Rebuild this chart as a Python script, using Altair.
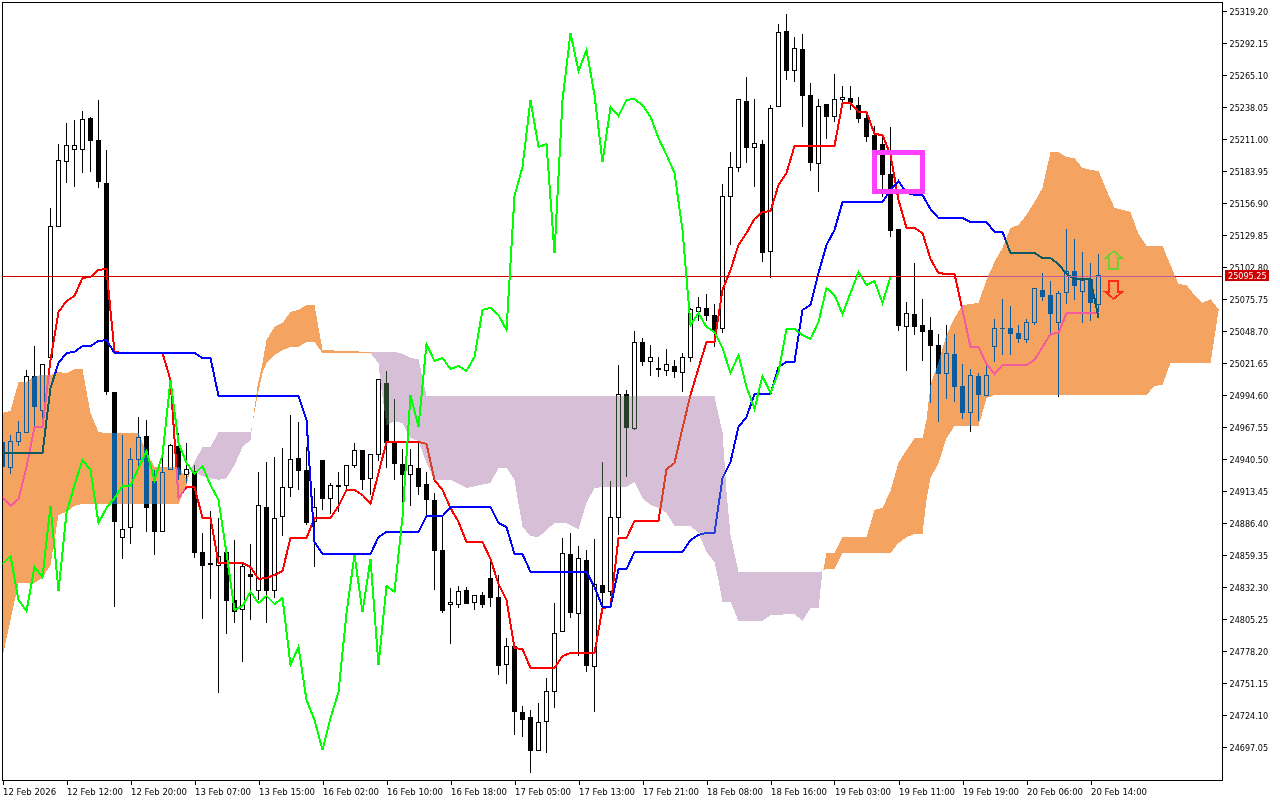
import altair as alt
import pandas as pd

AXIS_FONT = "DejaVu Sans Condensed"

opens = [24954.9,24933.7,24954.9,24962.5,25010.6,24981.1,25025.9,25137.4,25191.6,25202.5,25202.5,25228.8,25210.2,25173.8,24997.1,24874.5,24882.2,24940.5,24959.9,24921.9,24878.8,24932,24951.5,24927.8,24930.4,24861.9,24852.6,24850.9,24861.9,24821.3,24813.7,24843.3,24829,24899.9,24829,24891.5,24916.8,24941.3,24931.2,24887.3,24939.7,24906.7,24918.5,24917.7,24935.4,24948.1,24923.6,24943.9,25004.8,24954,24936.3,24927.8,24932.9,24919.4,24905.9,24863.6,24817.1,24817.9,24829.8,24818.8,24825.5,24839.9,24823.9,24767.2,24782.4,24726.7,24722.5,24693.7,24718.2,24743.6,24794.3,24860.2,24810.3,24855.1,24764.7,24834,24828.1,24890.7,24995.4,24966.7,25039.4,25022.5,25017.4,25015.7,25019.1,25014,25026.7,25065.6,25068.2,25062.2,25050.4,25162,25187.3,25243.1,25204.2,25206.8,25115.5,25238.1,25302.3,25268.5,25287.1,25248.2,25190.7,25240.6,25229.6,25244,25245.7,25239.7,25228.8,25214.4,25206.8,25181.4,25134.9,25052.1,25063,25053.8,25049.5,25036.9,25013.2,25029.3,25002.2,24980.2,25010.6,24993.8,25036,25051.2,25051.2,25047,25041.9,25056.3,25083.4,25079.1,25056.3,25081.6,25099.4,25082.5,25092.7,25071.5]
highs = [24956.6,24960.8,24972.7,25015.7,25036,25020,25152.7,25206.8,25224.6,25227.1,25234.7,25229.6,25244,25201.7,24997.1,24960.8,24949.8,24976,24973.5,24931.2,24941.3,24953.2,24962.5,24954,24935.4,24878,24896.6,24890.7,24863.6,24872,24853.4,24868.6,24929.5,24938,24942.2,24949.8,24977.7,24971.8,24950.6,24916,24939.7,24920.2,24929.5,24935.4,24954,24948.1,24943.9,25008.1,25014.9,24991.2,24949,24949,24954,24929.5,24911.8,24891.5,24831.5,24833.2,24832.3,24825.5,24828.1,24853.4,24842.5,24789.2,24782.4,24731.7,24728.4,24734.3,24755.4,24818.8,24873.7,24878,24866.9,24863.6,24872.9,24938,24921.9,25020,24998.8,25048.7,25042.8,25036.9,25026.7,25033.5,25024.2,25030.1,25068.2,25077.4,25080,25071.5,25172.9,25200,25244,25263.4,25244.8,25210.2,25239.7,25308.2,25316.7,25297.2,25299.8,25258.3,25244.8,25240.6,25265.9,25255.8,25255.8,25246.5,25232.1,25222,25211.8,25221.1,25134.9,25073.2,25106.2,25075.7,25060.5,25046.2,25053.8,25046.2,25020.8,25016.5,25013.2,25022.5,25058.8,25075.7,25069.8,25053.8,25058.8,25085,25097.7,25091,25082.5,25134.9,25126.5,25115.5,25106.2,25113.8]
lows = [24931.2,24927.8,24951.5,24962.5,24967.6,24973.5,25025.9,25137.4,25173.8,25170.4,25182.3,25183.1,25169.6,24994.6,24815.4,24856,24868.6,24932,24878.8,24859.4,24878.8,24932,24922.8,24920.2,24856.8,24805.2,24822.1,24742.7,24792.6,24801.9,24768.9,24804.4,24821.3,24801.9,24823,24875.4,24908.4,24914.3,24884.7,24849.2,24897.4,24894,24895.7,24914.3,24932.9,24914.3,24910.1,24938.8,24932.9,24922.8,24903.3,24900.8,24910.1,24892.3,24829.8,24810.3,24784.1,24814.6,24817.9,24812.9,24814.6,24815.4,24757.9,24750.3,24707.2,24705.5,24675.1,24693.7,24692,24730,24794.3,24806.1,24774,24760.5,24726.7,24815.4,24824.7,24876.3,24925.3,24965,25019.1,25010.6,25009.8,25010.6,25008.9,24997.1,25022.5,25057.2,25057.2,25035.2,25047,25121.4,25183.1,25190.7,25170.4,25107,25093.5,25238.1,25260.9,25259.2,25221.1,25184,25166.2,25211,25225.4,25241.4,25235.5,25224.6,25208.5,25197.5,25162,25128.2,25048.7,25014.9,25045.3,25023.3,24987.8,24971.8,24991.2,24988.7,24974.3,24963.3,24972.6,24993.8,25022.5,25028.4,25028.4,25038.6,25038.6,25053.8,25074,25047,24992.9,25071.5,25074.9,25055.5,25057.2,25059.7]
closes = [24933.7,24954.9,24962.5,25010.6,24984.4,25020,25137.4,25192.5,25205.1,25205.1,25227.1,25209.3,25174.6,24997.1,24887.3,24881.3,24940.5,24959.1,24899.1,24878.8,24929.5,24951.5,24927,24932,24861,24850,24850.9,24858.5,24820.5,24811.2,24850,24840.8,24900.8,24829,24889.8,24916.8,24939.7,24930.4,24886.4,24899.1,24906.7,24917.7,24916.8,24935.4,24948.1,24922.8,24943.9,25008.1,24954,24936.3,24927,24935.4,24916.8,24905.9,24862.7,24812,24818.8,24828.1,24817.9,24825.5,24817.1,24823,24765.5,24781.6,24726.7,24719.9,24693.7,24717.4,24743.6,24792.6,24860.2,24810.3,24856.8,24765.5,24834,24827.2,24890.7,24995.4,24966.7,25038.6,25022.5,25026.7,25015.7,25020,25014,25026.7,25066.5,25068.2,25061.4,25049.5,25162.8,25187.3,25244,25203.4,25206.8,25114.6,25237.2,25301.4,25268.5,25287.1,25247.3,25190.7,25238.1,25229.6,25244,25245.7,25241.4,25227.9,25212.7,25200,25180.6,25133.2,25053,25063.9,25052.1,25047.9,25036,25012.3,25029.3,25001.4,24979.4,25011.5,24994.6,25011.5,25050.4,25050.4,25046.2,25041.9,25056.3,25085,25077.4,25063,25080.8,25098.6,25086.7,25091.8,25072.4,25095.25]

tenkan = [24908.4,24900.8,24906.7,24933.7,24967.6,24967.6,25024.2,25064.8,25074,25078.3,25093.5,25094.4,25100.3,25101.1,25031,25030.1,25030.1,25030.1,25030.1,25030.1,25030.1,25007.3,24907.5,24916.8,24916.8,24890.7,24890.7,24852.6,24852.6,24852.6,24852.6,24849.2,24839.1,24839.9,24842.5,24845.8,24873.7,24873.7,24873.7,24890.7,24890.7,24890.7,24900.8,24914.3,24914.3,24910.1,24902.5,24928.7,24954.9,24954.9,24954.9,24954.9,24954.9,24953.2,24922.8,24914.3,24899.1,24887.3,24870.3,24870.3,24870.3,24856,24834.8,24821.3,24780.7,24779.9,24763.8,24763.8,24763.8,24763.8,24774,24776.5,24776.5,24776.5,24776.5,24814.6,24815.4,24873.7,24873.7,24888.1,24888.1,24888.1,24888.1,24932,24937.1,24966.7,24994.6,25017.4,25039.4,25039.4,25083.4,25100.3,25121.4,25131.5,25143.4,25149.3,25150.1,25172.1,25182.3,25205.1,25205.1,25205.1,25205.1,25205.1,25205.1,25241.4,25241.4,25233.8,25233.8,25215.2,25214.4,25197.5,25159.4,25135.8,25135.8,25131.5,25109.6,25097.7,25096.9,25096.9,25066.5,25035.2,25035.2,25020.8,25012.3,25020,25020,25020,25020,25024.2,25035.2,25046.2,25047,25063.9,25063.9,25063.9,25063.9,25063.9]
kijun = [24945.6,24945.6,24945.6,24945.6,24945.6,24945.6,25000.5,25021.6,25030.1,25031,25036,25036,25040.2,25041.1,25030.1,25030.1,25030.1,25030.1,25030.1,25030.1,25030.1,25030.1,25030.1,25030.1,25030.1,25025.9,25025.9,24993.8,24993.8,24993.8,24993.8,24993.8,24993.8,24993.8,24993.8,24993.8,24993.8,24993.8,24973.5,24870.3,24860.2,24860.2,24860.2,24860.2,24860.2,24860.2,24860.2,24874.5,24878.8,24878.8,24878.8,24878.8,24878.8,24892.3,24892.3,24892.3,24899.9,24899.9,24899.9,24899.9,24899.9,24899.9,24886.4,24883,24860.2,24860.2,24845,24845,24845,24845,24845,24845,24845,24845,24832.3,24815.4,24815.4,24847.5,24847.5,24861.9,24861.9,24861.9,24861.9,24861.9,24861.9,24861.9,24872,24876.3,24878,24878,24924.4,24938,24967.6,24976,24995.4,24995.4,24995.4,25018.3,25022.5,25022.5,25066.5,25070.7,25097.7,25121.4,25134.1,25157.7,25157.7,25157.7,25157.7,25157.7,25157.7,25167.9,25175.5,25165.4,25163.7,25163.7,25151.8,25144.2,25144.2,25144.2,25144.2,25140.8,25140.8,25140.8,25132.4,25132.4,25114.6,25114.6,25114.6,25114.6,25110.4,25110.4,25105.3,25096.9,25092.7,25092.7,25092.7,25059.7]
chikou = [24851.7,24858.5,24821.3,24812,24849.2,24840.8,24900.8,24829,24894.9,24918.5,24939.7,24931.2,24886.4,24899.1,24907.5,24917.7,24917.7,24932.9,24947.3,24922.8,24943.9,25007.3,24954,24937.1,24927.8,24934.6,24918.5,24905.9,24861,24812.9,24816.2,24828.1,24818.8,24824.7,24817.9,24823,24766.4,24781.6,24736.8,24719.9,24694.5,24721.6,24743.6,24810.3,24859.4,24811.2,24856,24766.4,24833.2,24828.1,24891.5,24994.6,24967.6,25037.7,25023.3,25025.9,25016.5,25019.1,25014.9,25026.7,25066.5,25068.2,25062.2,25049.5,25162.8,25187.3,25244,25204.2,25206.8,25114.6,25244,25300.6,25268.5,25286.2,25248.2,25191.6,25238.1,25230.4,25244,25244.8,25239.7,25229.6,25211.8,25197.5,25182.3,25134.1,25053.8,25063.9,25052.1,25047.9,25034.3,25013.2,25028.4,25001.4,24982.8,25010.6,24996.3,25014,25050.4,25050.4,25045.3,25041.9,25056.3,25085,25079.1,25063,25080.8,25098.6,25087.6,25091,25072.4,25094.4]

# Cloud outlines: bar position, upper span, lower span
orange_a_pos = [0,1,2,3,4,5,6,7,8,9,10,11,12,13,14,15,16,17,18,19,20,21,22,23,23.5]
orange_a_top = [24979.4,24981.1,25005.6,25005.6,25010.6,25011.5,25011.5,25014,25013.2,25016.5,25016.5,24979.4,24963.3,24962.5,24962.5,24962.5,24962.5,24962.5,24946.4,24933.7,24933.7,24933.7,24933.7,24924.4,24931.2]
orange_a_bot = [24773.2,24804.4,24835.7,24835.7,24835.7,24839.9,24850.9,24893.2,24895.7,24900.8,24902.5,24902.5,24902.5,24902.5,24902.5,24902.5,24902.5,24902.5,24902.5,24902.5,24902.5,24902.5,24902.5,24918.5,24931.2]

purple_a_pos = [23.5,24,25,26,27,28,29,30,31,31.25]
purple_a_top = [24931.2,24938,24950.6,24950.6,24963.3,24963.3,24963.3,24963.3,24963.3,24970.9]
purple_a_bot = [24931.2,24929.5,24926.1,24924.4,24922.8,24924.4,24935.4,24950.6,24956.6,24970.9]

orange_b_pos = [31.25,31.9,32.5,33,34,35,36,37,38,39,40,46]
orange_b_top = [24970.9,25003.1,25021.6,25041.1,25052.1,25055.5,25064.8,25066.5,25070.7,25070.7,25032.6,25031]
orange_b_bot = [24970.9,24994.6,25013.2,25021.6,25028.4,25032.6,25035.2,25035.2,25039.4,25039.4,25030.1,25030]

purple_b_pos = [46,47,47.25,48,49,50,51,52,53,54,56,58,61,62,63,64,65,66,67,68,69,70.5,72,73,74,75,76,77,78,79,80,81,82,83,84,86,87,88,89,89.5,90,90.5,91,92,95,96,99,100,101,102,102.5]
purple_b_top = [25031,25031,25031,25031,25031,25029.3,25025.9,25025,24993.8,24993.8,24993.8,24993.8,24993.8,24993.8,24993.8,24993.8,24993.8,24993.8,24993.8,24993.8,24993.8,24993.8,24993.8,24993.8,24993.8,24993.8,24993.8,24993.8,24993.8,24993.8,24993.8,24993.8,24993.8,24993.8,24993.8,24993.8,24993.8,24993.8,24993.8,24977.7,24963.3,24912.6,24876.3,24845,24845,24845,24845,24845,24845,24845,24845.8]
purple_b_bot = [25030,25021.6,25004.8,24969.2,24972.6,24970.9,24958.2,24955.7,24937.1,24922.8,24922.8,24916,24920.2,24932.9,24932.9,24922.8,24883,24875.4,24874.5,24880.5,24886.4,24886.4,24881.3,24903.3,24916,24916.8,24916.8,24916.8,24916.8,24921.1,24907.5,24901.6,24899.1,24894.9,24883.9,24883.9,24878,24861.9,24853.4,24838.2,24819.6,24819.6,24819.6,24803.6,24803.6,24808.6,24809.5,24803.6,24814.6,24814.6,24845.8]

orange_c_pos = [102.6,103,104,105,108,109,110,111,112,113,114,115,115.5,116,117,118,119,120,121,122,123,124,125,126,127,128,129,130,131,132,133,134,135,136,137,138,139,140,141,142,143,144,145,146,147,148,149,150,151,152]
orange_c_top = [24846.7,24861,24861,24874.5,24874.5,24897.4,24899.1,24913.5,24937.1,24948.1,24958.2,24958.2,24973.5,25003.1,25022.5,25045.3,25059.7,25070.7,25071.5,25072.4,25091.8,25107,25118.9,25135.8,25138.3,25146.8,25157.7,25169.6,25200,25200,25195.8,25194.9,25186.5,25184.8,25184,25167.9,25152.7,25151,25149.3,25130.7,25120.6,25120.6,25120.6,25104.5,25088.4,25087.6,25079.1,25072.4,25075.7,25067.3]
orange_c_bot = [24846.7,24847.5,24847.5,24861,24861,24861,24861,24861,24869.5,24874.5,24877.1,24877.1,24905.9,24924.4,24937.1,24958.2,24968.4,24968.4,24968.4,24968.4,24992,24994.6,24994.6,24994.6,24994.6,24994.6,24994.6,24994.6,24994.6,24994.6,24994.6,24994.6,24994.6,24994.6,24994.6,24994.6,24994.6,24994.6,24994.6,24994.6,24994.6,25002.2,25003.1,25021.6,25021.6,25021.6,25021.6,25021.6,25021.6,25065.6]

y_ticks = [25319.20,25292.15,25265.10,25238.05,25211.00,25183.95,25156.90,25129.85,25102.80,25075.75,25048.70,25021.65,24994.60,24967.55,24940.50,24913.45,24886.40,24859.35,24832.30,24805.25,24778.20,24751.15,24724.10,24697.05]
x_positions = [0,8,16,24,32,40,48,56,64,72,80,88,96,104,112,120,128,136]
x_labels = ["12 Feb 2026","12 Feb 12:00","12 Feb 20:00","13 Feb 07:00","13 Feb 15:00","16 Feb 02:00","16 Feb 10:00","16 Feb 18:00","17 Feb 05:00","17 Feb 13:00","17 Feb 21:00","18 Feb 08:00","18 Feb 16:00","19 Feb 03:00","19 Feb 11:00","19 Feb 19:00","20 Feb 06:00","20 Feb 14:00"]

last_price = 25095.25
line_start, line_end = -0.0625, 152.4375
box_pos = [109.06, 115.06]
box_price = [25200.0, 25167.0]
arrow_pos = 138.9
arrow_up_price = 25108.7
arrow_down_price = 25083.4

for arr in (opens, highs, lows, closes, tenkan, kijun):
    assert len(arr) == 138, len(arr)
assert len(chikou) == 112, len(chikou)
for p, t, b in ((orange_a_pos, orange_a_top, orange_a_bot), (purple_a_pos, purple_a_top, purple_a_bot),
                (orange_b_pos, orange_b_top, orange_b_bot), (purple_b_pos, purple_b_top, purple_b_bot),
                (orange_c_pos, orange_c_top, orange_c_bot)):
    assert len(p) == len(t) == len(b), (len(p), len(t), len(b))

candles = pd.DataFrame({"i": range(138), "o": opens, "h": highs, "l": lows, "c": closes})
candles["top"] = candles[["o", "c"]].max(axis=1)
candles["bot"] = candles[["o", "c"]].min(axis=1)
up = candles[candles.c >= candles.o]
down = candles[candles.c < candles.o]

xs = alt.Scale(domain=[-0.0625, 152.4375], nice=False, zero=False, padding=0)
ys = alt.Scale(domain=[24669.16, 25326.81], nice=False, zero=False)
X = alt.X("i:Q", scale=xs, title=None)
Y = alt.Y("c:Q", scale=ys, title=None)
Ytop = alt.Y("top:Q", scale=ys, title=None)

wicks = alt.Chart(candles).mark_rule(color="black", strokeWidth=1, clip=True).encode(
    x=alt.X("i:Q", scale=xs, title=None, axis=alt.Axis(
        values=x_positions, tickCount=40, grid=False, domain=True, domainColor="black",
        ticks=True, tickColor="black", tickSize=4, labelColor="black", labelFont=AXIS_FONT,
        labelFontSize=9.5, labelAlign="left", labelBaseline="top", labelPadding=2,
        labelFlush=False, labelOverlap=False, labelBound=False,
        labelExpr="%s[indexof(%s, datum.value)]" % (str(x_labels), str(x_positions)))),
    y=alt.Y("h:Q", scale=ys, title=None, axis=alt.Axis(
        values=y_ticks, tickCount=40, orient="right", grid=False, format=".2f", domain=True,
        domainColor="black", ticks=True, tickColor="black", tickSize=4, labelColor="black",
        labelFont=AXIS_FONT, labelFontSize=9, labelPadding=3, labelOverlap=False,
        labelFlush=False, labelBound=False)),
    y2="l:Q",
)
bars_up = alt.Chart(up).mark_bar(size=4, orient="vertical", fill="white", stroke="black", strokeWidth=1, clip=True).encode(
    x=X, y=Ytop, y2="bot:Q")
bars_down = alt.Chart(down).mark_bar(size=5, orient="vertical", fill="black", clip=True).encode(
    x=X, y=Ytop, y2="bot:Q")


def line(values, color):
    df = pd.DataFrame({"i": range(len(values)), "c": values})
    return alt.Chart(df).mark_line(color=color, strokeWidth=2, clip=True).encode(x=X, y=Y)


def cloud(pos, top, bot, color):
    df = pd.DataFrame({"i": pos, "top": top, "bot": bot})
    return alt.Chart(df).mark_area(color=color, blend="difference", opacity=1).encode(
        x=X, y=Ytop, y2="bot:Q")


ORANGE_XOR = "#0B5B9F"   # gives #F4A460 over white
PURPLE_XOR = "#274027"   # gives #D8BFD8 over white

price_line = alt.Chart(pd.DataFrame({"i": [line_start, line_end], "c": [last_price, last_price]})).mark_line(
    color="#D00000", strokeWidth=1, yOffset=0.6).encode(x=X, y=Y)

box = alt.Chart(pd.DataFrame({"i": [box_pos[0]], "i2": [box_pos[1]], "c": [box_price[0]], "c2": [box_price[1]]})).mark_rect(
    fillOpacity=0, stroke="#FF40FF", strokeWidth=5).encode(x=X, x2="i2:Q", y=Y, y2="c2:Q")

UP_SHAPE = "M0,-1 L0.95,-0.2 L0.5,-0.2 L0.5,1 L-0.5,1 L-0.5,-0.2 L-0.95,-0.2 Z"
DOWN_SHAPE = "M0,1 L0.95,0.2 L0.5,0.2 L0.5,-1 L-0.5,-1 L-0.5,0.2 L-0.95,0.2 Z"
arrow_up = alt.Chart(pd.DataFrame({"i": [arrow_pos], "c": [arrow_up_price]})).mark_point(
    shape=UP_SHAPE, size=324, filled=False, stroke="#74CC33", strokeWidth=1.8, opacity=1).encode(x=X, y=Y)
arrow_down = alt.Chart(pd.DataFrame({"i": [arrow_pos], "c": [arrow_down_price]})).mark_point(
    shape=DOWN_SHAPE, size=324, filled=False, stroke="#FF2A10", strokeWidth=1.8, opacity=1).encode(x=X, y=Y)

tag_bg = alt.Chart(pd.DataFrame({"c": [last_price]})).mark_point(
    shape="M-1,-0.25 L1,-0.25 L1,0.25 L-1,0.25 Z", size=1936, filled=True, color="#CC0000", opacity=1).encode(
    x=alt.value(1245), y=Y)
tag_text = alt.Chart(pd.DataFrame({"c": [last_price]})).mark_text(
    color="white", font=AXIS_FONT, fontSize=9, align="left", baseline="middle").encode(
    x=alt.value(1226), y=Y, text=alt.Text("c:Q", format=".2f"))

chart = alt.layer(
    wicks, bars_up, bars_down,
    line(tenkan, "#FF0000"), line(kijun, "#0000FF"), price_line,
    cloud(orange_a_pos, orange_a_top, orange_a_bot, ORANGE_XOR),
    cloud(purple_a_pos, purple_a_top, purple_a_bot, PURPLE_XOR),
    cloud(orange_b_pos, orange_b_top, orange_b_bot, ORANGE_XOR),
    cloud(purple_b_pos, purple_b_top, purple_b_bot, PURPLE_XOR),
    cloud(orange_c_pos, orange_c_top, orange_c_bot, ORANGE_XOR),
    line(chikou, "#00FF00"), box, arrow_up, arrow_down, tag_bg, tag_text,
).properties(
    width=1220, height=778,
    autosize=alt.AutoSizeParams(type="none"),
    padding={"left": 2, "top": 2, "right": 58, "bottom": 20},
    background="white",
).configure_view(stroke="black", strokeWidth=1, fill="white")

chart.save("out.html", embed_options={
    "renderer": "svg", "actions": False,
    "defaultStyle": "body{margin:0;overflow:hidden} svg path,svg line{shape-rendering:crispEdges}",
})
